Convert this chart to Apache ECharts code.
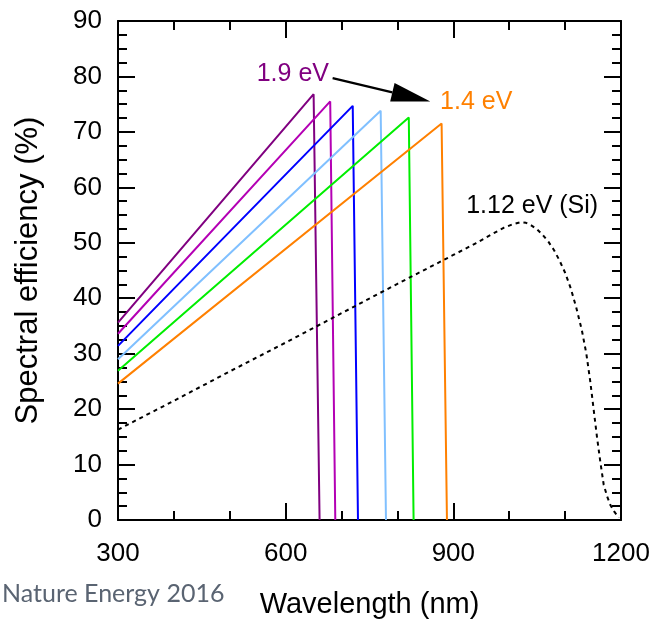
<!DOCTYPE html>
<html><head><meta charset="utf-8">
<script src="https://cdn.jsdelivr.net/npm/echarts@6/dist/echarts.min.js"></script>
<style>html,body{margin:0;padding:0;background:#fff}#c{width:653px;height:624px}</style>
</head><body><div id="c"></div>
<script>
// ---- data ----
const xTickLabels = [300, 600, 900, 1200];
const yTickLabels = [0, 10, 20, 30, 40, 50, 60, 70, 80, 90];
const bandgapNames = ['1.9 eV', '1.8 eV', '1.7 eV', '1.6 eV', '1.5 eV', '1.4 eV'];
const bandgapColors = ['#800080', '#b400b4', '#0000ff', '#80c0ff', '#00ee00', '#ff8000'];
const eff19 = [[300, 35.6], [650, 76.8], [660.7, 0]];
const eff18 = [[300, 33.6], [679.7, 75.5], [688.8, 0]];
const eff17 = [[300, 31.4], [720, 74.7], [729.4, 0]];
const eff16 = [[300, 29.0], [770, 73.8], [779.5, 0]];
const eff15 = [[300, 26.9], [820.3, 72.6], [828.9, 0]];
const eff14 = [[300, 24.6], [879, 71.5], [888.6, 0]];
const effSi = [[300, 16.3], [400, 21.5], [500, 26.8], [600, 32.0], [700, 37.3], [800, 42.6], [900, 47.8],
  [940, 49.9], [970, 51.6], [990, 52.7], [1005, 53.3], [1020, 53.7], [1030, 53.6], [1040, 53.1],
  [1050, 52.4], [1060, 51.4], [1070, 50.2], [1080, 48.7], [1090, 46.8], [1100, 44.6], [1110, 41.8],
  [1120, 38.3], [1130, 34.2], [1138, 30.0], [1145, 25.0], [1151, 20.0], [1157, 15.0], [1163, 10.5],
  [1169, 6.4], [1175, 4.3], [1181, 2.7], [1188, 1.5], [1196, 0.4]];
const labelHigh = {text: '1.9 eV', at: [612.8, 80.5]};
const labelLow = {text: '1.4 eV', at: [941, 75.4]};
const labelSi = {text: '1.12 eV (Si)', at: [1041, 56.6]};
const arrowFrom = [684, 79.7];
const arrowTo = [858.8, 75.5];
const sourceText = 'Nature Energy 2016';

const bandgapData = [eff19, eff18, eff17, eff16, eff15, eff14];
const FONT = '"Liberation Sans", Arial, sans-serif';

const chart = echarts.init(document.getElementById('c'), null, {renderer: 'canvas'});

function axisCommon(showLabel) {
  return {
    axisLine: {show: true, onZero: false, lineStyle: {color: '#000', width: 2}},
    axisTick: {show: true, inside: true, length: 17, lineStyle: {color: '#000', width: 2}},
    minorTick: {show: true, length: 9, lineStyle: {color: '#000', width: 2}},
    splitLine: {show: false},
    minorSplitLine: {show: false},
    axisLabel: {show: showLabel, color: '#000', fontSize: 26, fontFamily: FONT},
  };
}

const series = bandgapData.map((d, i) => ({
  name: bandgapNames[i], type: 'line', data: d, showSymbol: false, symbol: 'none',
  lineStyle: {color: bandgapColors[i], width: 2}, silent: true, z: 3
}));
series.push({
  name: '1.12 eV (Si)', type: 'line', data: effSi, showSymbol: false, symbol: 'none', smooth: false,
  lineStyle: {color: '#000', width: 2, type: [4, 4]}, silent: true, z: 3
});

chart.setOption({
  animation: false,
  backgroundColor: '#fff',
  grid: {left: 118, top: 21, right: 32, bottom: 103, containLabel: false},
  xAxis: [
    Object.assign(axisCommon(true), {
      type: 'value', min: 300, max: 1200, interval: 300, position: 'bottom',
      minorTick: {show: true, splitNumber: 3, length: 9, lineStyle: {color: '#000', width: 2}},
      axisLabel: {show: true, color: '#000', fontSize: 26, fontFamily: FONT, margin: 21,
        formatter: v => xTickLabels.includes(v) ? String(v) : ''},
      name: 'Wavelength (nm)', nameLocation: 'middle', nameGap: 70,
      nameTextStyle: {color: '#000', fontSize: 29, fontFamily: FONT}
    }),
    Object.assign(axisCommon(false), {
      type: 'value', min: 300, max: 1200, interval: 300, position: 'top',
      minorTick: {show: true, splitNumber: 3, length: 9, lineStyle: {color: '#000', width: 2}}
    })
  ],
  yAxis: [
    Object.assign(axisCommon(true), {
      type: 'value', min: 0, max: 90, interval: 10, position: 'left',
      minorTick: {show: true, splitNumber: 4, length: 9, lineStyle: {color: '#000', width: 2}},
      axisLabel: {show: true, color: '#000', fontSize: 26, fontFamily: FONT, margin: 16,
        formatter: v => yTickLabels.includes(v) ? String(v) : ''},
      name: 'Spectral efficiency (%)', nameLocation: 'middle', nameGap: 74,
      nameTextStyle: {color: '#000', fontSize: 31, fontFamily: FONT}
    }),
    Object.assign(axisCommon(false), {
      type: 'value', min: 0, max: 90, interval: 10, position: 'right',
      minorTick: {show: true, splitNumber: 4, length: 9, lineStyle: {color: '#000', width: 2}}
    })
  ],
  series: series
});

function px(p) { return chart.convertToPixel({gridIndex: 0}, p); }
const pH = px(labelHigh.at), pL = px(labelLow.at), pS = px(labelSi.at);
const a0 = px(arrowFrom), a1 = px(arrowTo);
const dx = a1[0] - a0[0], dy = a1[1] - a0[1], len = Math.hypot(dx, dy);
const ux = dx / len, uy = dy / len, headL = 39, headW = 9.5;
const bx = a1[0] - ux * headL, by = a1[1] - uy * headL;

chart.setOption({
  graphic: [
    {type: 'text', x: pH[0], y: pH[1], style: {text: labelHigh.text, fill: bandgapColors[0], font: '25px ' + FONT, align: 'center', verticalAlign: 'middle'}, z: 10},
    {type: 'text', x: pL[0], y: pL[1], style: {text: labelLow.text, fill: bandgapColors[5], font: '25px ' + FONT, align: 'center', verticalAlign: 'middle'}, z: 10},
    {type: 'text', x: pS[0], y: pS[1], style: {text: labelSi.text, fill: '#000', font: '25px ' + FONT, align: 'center', verticalAlign: 'middle'}, z: 10},
    {type: 'line', shape: {x1: a0[0], y1: a0[1], x2: bx, y2: by}, style: {stroke: '#000', lineWidth: 2.2}, z: 10},
    {type: 'polygon', shape: {points: [[a1[0], a1[1]], [bx - uy * headW, by + ux * headW], [bx + uy * headW, by - ux * headW]]}, style: {fill: '#000'}, z: 10},
    {type: 'text', left: 2, top: 581, style: {text: sourceText, fill: '#5a6472', font: '25px Lato, "Open Sans", sans-serif'}, z: 10}
  ]
});
</script></body></html>
